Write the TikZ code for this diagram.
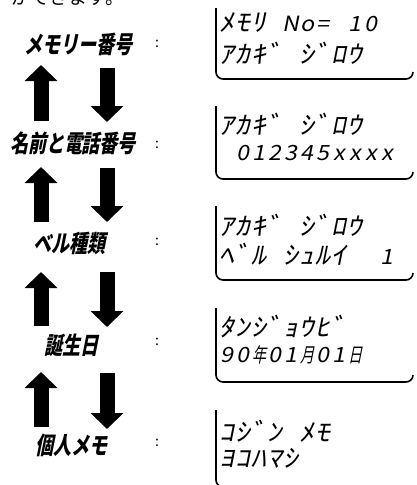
\documentclass[tikz,border=0pt]{standalone}
\usepackage{fontspec}
\usetikzlibrary{arrows.meta}

\newfontfamily\jpfont{Noto Sans CJK JP}
\newfontfamily\lblfont[FakeSlant=0.2,FakeStretch=0.75]{Noto Sans CJK JP}
\newfontfamily\lcdfont[FakeSlant=0.2,FakeStretch=1.1]{Noto Sans CJK JP}
\newfontfamily\lcdkana[FakeSlant=0.2,FakeStretch=1.2]{Noto Sans CJK JP}
\newfontfamily\lcdkanji[FakeSlant=0.2,FakeStretch=0.7]{Noto Sans CJK JP}
\newlength\lcdpitch \setlength\lcdpitch{16pt}
\makeatletter
\newcommand\lcdcell[1]{\makebox[\lcdpitch]{\ifx~#1\else
  \ifnum`#1>"FF60 {\lcdkana\fontsize{25pt}{25pt}\selectfont #1}\else
  \ifnum`#1>"2FFF {\lcdkanji\fontsize{20pt}{20pt}\selectfont #1}\else #1\fi\fi\fi}}
\newcommand\lcdrow[1]{\@tfor\lcdch:=#1\do{\expandafter\lcdcell\expandafter{\lcdch}}}
\makeatother

\begin{document}
\begin{tikzpicture}[
    x=1pt, y=-1pt,
    lbl/.style={font={\lblfont\bfseries\fontsize{24pt}{24pt}\selectfont}, inner sep=0pt},
    colon/.style={font={\jpfont\fontsize{14pt}{14pt}\selectfont}, inner sep=0pt},
    lcd/.style={font={\lcdfont\fontsize{21pt}{21pt}\selectfont}, inner sep=0pt, anchor=west},
    intro/.style={font={\jpfont\fontsize{19pt}{19pt}\selectfont}, inner sep=0pt},
    panel/.style={line width=1.6pt, rounded corners=7pt},
    blk/.style={line width=15pt, -{Triangle[length=16pt, width=32pt]}},
  ]
  \useasboundingbox (0,0) rectangle (417,485);
  \clip (0,0) rectangle (417,485);
  \node[intro] (head) at (68,-3) {ができます。};
  % menu labels
  \node[lbl] (l1) at (78,44) {メモリー番号};
  \node[lbl] (l2) at (73,143) {名前と電話番号};
  \node[lbl] (l3) at (70,243) {ベル種類};
  \node[lbl] (l4) at (71,345) {誕生日};
  \node[lbl] (l5) at (71,445) {個人メモ};
  \node[colon] (c1) at (157,44) {:};
  \node[colon] (c2) at (157,145) {:};
  \node[colon] (c3) at (157,242) {:};
  \node[colon] (c4) at (157,342) {:};
  \node[colon] (c5) at (157,443) {:};
  % arrows between labels
  \coordinate (u1b) at (41,121); \coordinate (u1t) at (41,65);
  \coordinate (d1t) at (107,68); \coordinate (d1b) at (107,122);
  \coordinate (u2b) at (41,222); \coordinate (u2t) at (41,167);
  \coordinate (d2t) at (107,168); \coordinate (d2b) at (107,222);
  \coordinate (u3b) at (41,326); \coordinate (u3t) at (41,272);
  \coordinate (d3t) at (107,272); \coordinate (d3b) at (107,327);
  \coordinate (u4b) at (41,427); \coordinate (u4t) at (41,372);
  \coordinate (d4t) at (107,373); \coordinate (d4b) at (107,429);
  \draw[blk] (u1b) -- (u1t);
  \draw[blk] (d1t) -- (d1b);
  \draw[blk] (u2b) -- (u2t);
  \draw[blk] (d2t) -- (d2b);
  \draw[blk] (u3b) -- (u3t);
  \draw[blk] (d3t) -- (d3b);
  \draw[blk] (u4b) -- (u4t);
  \draw[blk] (d4t) -- (d4b);
  % display panels
  \draw[panel] (216,8) -- (216,79) -- (413,79) -- (413,72);
  \draw[panel] (216,106) -- (216,179) -- (413,179) -- (413,172);
  \draw[panel] (216,206) -- (216,280) -- (413,280) -- (413,273);
  \draw[panel] (216,308) -- (216,382) -- (413,382) -- (413,375);
  \draw[panel] (216,410) -- (216,487) -- (413,487);
  % display texts
  \node[lcd] (p1a) at (219,23) {\lcdrow{ﾒﾓﾘ~No=~10}};
  \node[lcd] (p1b) at (219,53) {\lcdrow{ｱｶｷﾞ~ｼﾞﾛｳ}};
  \node[lcd] (p2a) at (219,124) {\lcdrow{ｱｶｷﾞ~ｼﾞﾛｳ}};
  \node[lcd] (p2b) at (219,153) {\lcdrow{~012345xxxx}};
  \node[lcd] (p3a) at (219,225) {\lcdrow{ｱｶｷﾞ~ｼﾞﾛｳ}};
  \node[lcd] (p3b) at (219,254) {\lcdrow{ﾍﾞﾙ~ｼｭﾙｲ~~1}};
  \node[lcd] (p4a) at (219,327) {\lcdrow{ﾀﾝｼﾞｮｳﾋﾞ}};
  \node[lcd] (p4b) at (219,355) {\lcdrow{90年01月01日}};
  \node[lcd] (p5a) at (219,431) {\lcdrow{ｺｼﾞﾝ~ﾒﾓ}};
  \node[lcd] (p5b) at (219,458) {\lcdrow{ﾖｺﾊﾏｼ}};
\end{tikzpicture}
\end{document}
